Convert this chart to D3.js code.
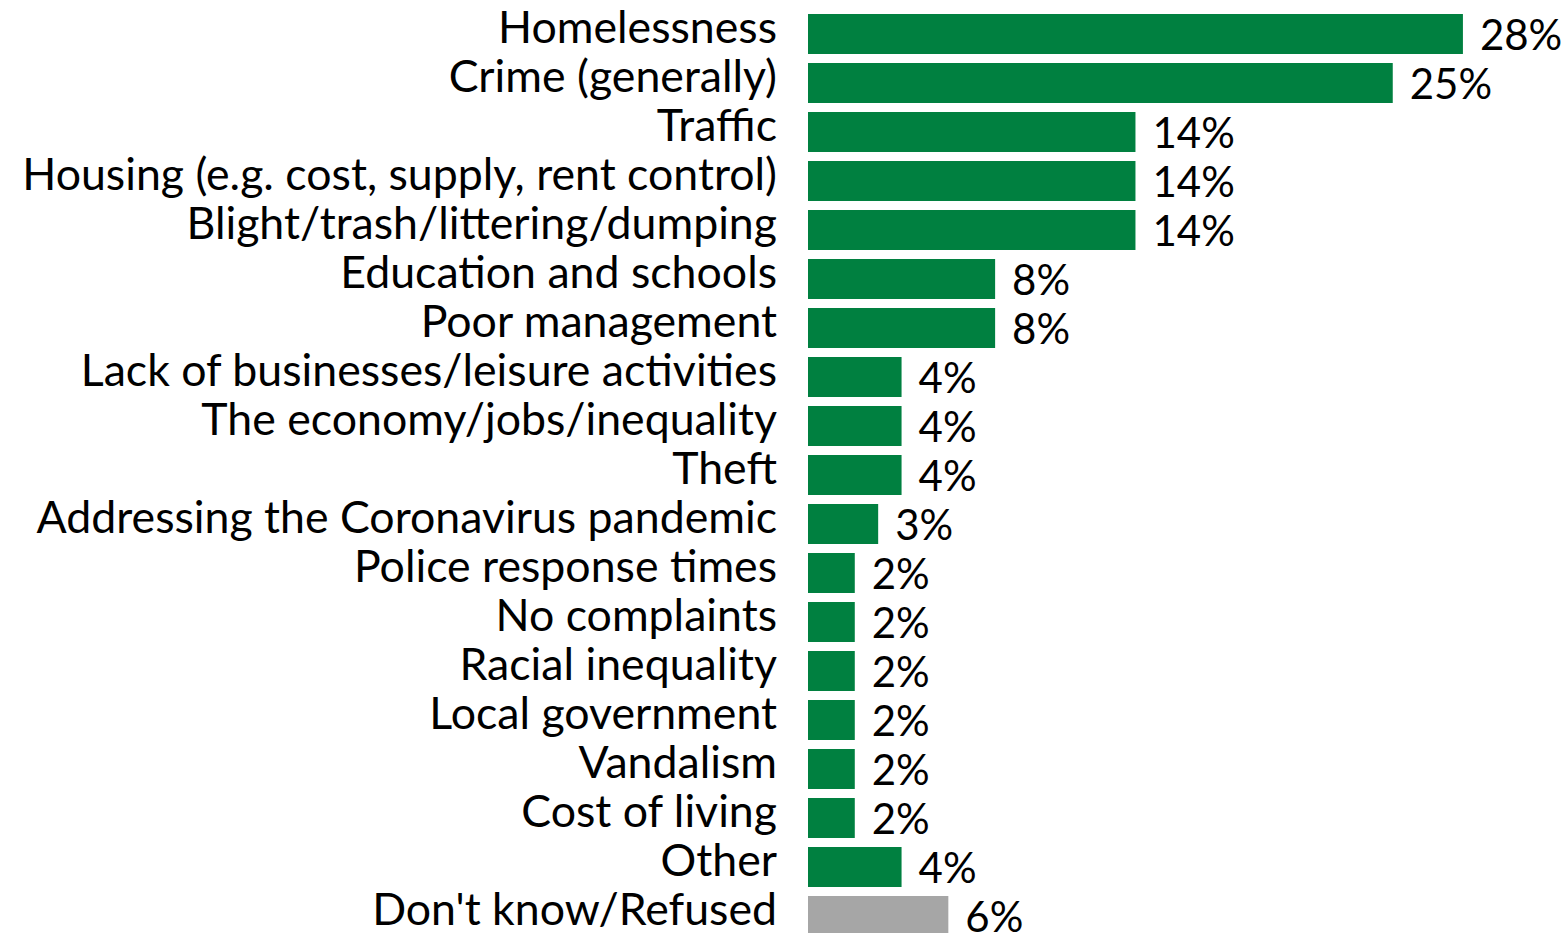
<!DOCTYPE html>
<html><head><meta charset="utf-8">
<script src="https://cdn.jsdelivr.net/npm/d3@7"></script>
<style>html,body{margin:0;padding:0;background:#fff;overflow:hidden}</style>
</head><body>
<svg id="c" width="1567" height="933"></svg>
<script>
const categories = ["Homelessness","Crime (generally)","Traffic","Housing (e.g. cost, supply, rent control)","Blight/trash/littering/dumping","Education and schools","Poor management","Lack of businesses/leisure activities","The economy/jobs/inequality","Theft","Addressing the Coronavirus pandemic","Police response times","No complaints","Racial inequality","Local government","Vandalism","Cost of living","Other","Don't know/Refused"];
const values = [28,25,14,14,14,8,8,4,4,4,3,2,2,2,2,2,2,4,6];
const valueLabels = ["28%","25%","14%","14%","14%","8%","8%","4%","4%","4%","3%","2%","2%","2%","2%","2%","2%","4%","6%"];
const grayCategories = ["Don't know/Refused"];

const svg = d3.select("#c");
const FONT = "Lato, 'Open Sans', sans-serif";
const x = d3.scaleLinear().domain([0, 30]).range([808, 808 + 30 * 23.39]);
const y = d3.scaleBand().domain(categories).range([9.5, 9.5 + 19 * 49]).paddingInner(0.184).paddingOuter(0.092);

svg.selectAll("rect.bar").data(categories).join("rect")
  .attr("class","bar")
  .attr("x", x(0))
  .attr("y", d => y(d))
  .attr("width", (d,i) => x(values[i]) - x(0))
  .attr("height", y.bandwidth())
  .attr("fill", d => grayCategories.includes(d) ? "#a6a6a6" : "#008040");

const catLabels = svg.selectAll("text.cat").data(categories).join("text")
  .attr("class","cat")
  .attr("x", 777)
  .attr("y", d => y(d) + y.bandwidth()/2 + 9)
  .attr("text-anchor","end")
  .attr("font-family", FONT)
  .attr("font-size", 40)
  .attr("fill","#000")
  .text(d => d);

// fit font size so the longest label spans the reference width
let maxW = 0;
catLabels.each(function(){ maxW = Math.max(maxW, this.getComputedTextLength()); });
const fs = 40 * 755 / maxW;
catLabels.attr("font-size", fs);

svg.selectAll("text.val").data(categories).join("text")
  .attr("class","val")
  .attr("x", (d,i) => x(values[i]) + 17)
  .attr("y", d => y(d) + y.bandwidth()/2 + 16)
  .attr("font-family", FONT)
  .attr("font-size", fs * 0.94)
  .attr("fill","#000")
  .text((d,i) => valueLabels[i]);
</script>
</body></html>
